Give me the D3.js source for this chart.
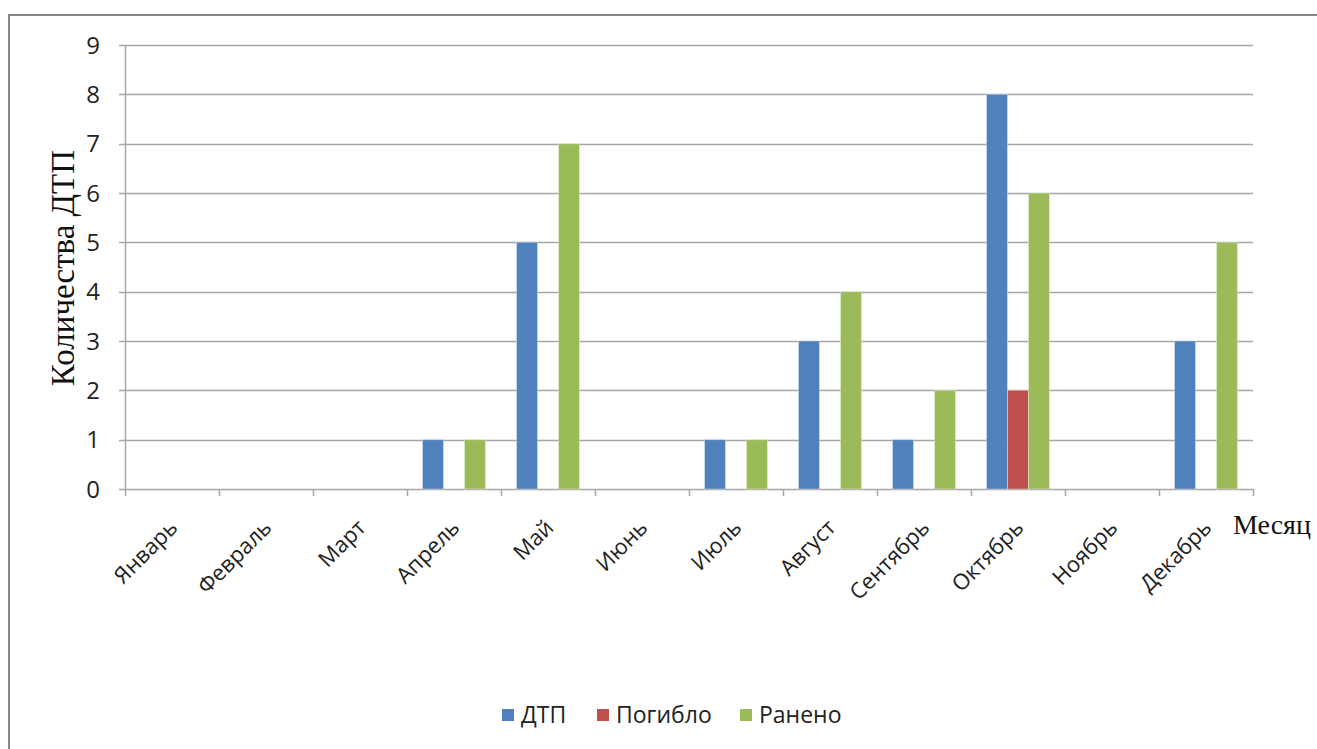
<!DOCTYPE html>
<html>
<head>
<meta charset="utf-8">
<script src="https://cdn.jsdelivr.net/npm/d3@7"></script>
<style>
  body { margin: 0; background: #fff; }
  svg { display: block; }
</style>
</head>
<body>
<script>
// Data
const months = ['Январь', 'Февраль', 'Март', 'Апрель', 'Май', 'Июнь',
                'Июль', 'Август', 'Сентябрь', 'Октябрь', 'Ноябрь', 'Декабрь'];
const seriesNames = ['ДТП', 'Погибло', 'Ранено'];
const dtp     = [0, 0, 0, 1, 5, 0, 1, 3, 1, 8, 0, 3];
const killed  = [0, 0, 0, 0, 0, 0, 0, 0, 0, 2, 0, 0];
const injured = [0, 0, 0, 1, 7, 0, 1, 4, 2, 6, 0, 5];
const yTicks = [0, 1, 2, 3, 4, 5, 6, 7, 8, 9];

const colors = ['#4F81BD', '#C0504D', '#9BBB59'];
const series = [dtp, killed, injured];

const width = 1317, height = 749;
const plotL = 125, plotR = 1253, plotT = 45, plotB = 489;

const svg = d3.select('body').append('svg')
    .attr('width', width)
    .attr('height', height);

// outer frame
svg.append('path')
    .attr('d', `M9,${height + 5} L9,15 L${width + 5},15`)
    .attr('fill', 'none')
    .attr('stroke', '#878787')
    .attr('stroke-width', 2);

const x = d3.scaleBand().domain(months).range([plotL, plotR]);
const x1 = d3.scaleBand().domain(seriesNames).range([0, x.bandwidth()]).paddingOuter(0.74);
const y = d3.scaleLinear().domain([0, 9]).range([plotB, plotT]);

// gridlines
svg.append('g')
    .selectAll('line')
    .data(yTicks)
    .join('line')
        .attr('x1', plotL - 6)
        .attr('x2', plotR)
        .attr('y1', d => Math.round(y(d)) + 0.5)
        .attr('y2', d => Math.round(y(d)) + 0.5)
        .attr('stroke', '#a6a6a6')
        .attr('stroke-width', 1.5);

// y axis line
svg.append('line')
    .attr('x1', plotL + 0.5).attr('x2', plotL + 0.5)
    .attr('y1', plotT).attr('y2', plotB)
    .attr('stroke', '#a6a6a6')
    .attr('stroke-width', 1.5);

// y tick labels
svg.append('g')
    .selectAll('text')
    .data(yTicks)
    .join('text')
        .attr('x', 100)
        .attr('y', d => y(d))
        .attr('dy', '0.36em')
        .attr('text-anchor', 'end')
        .style('font-family', '"Open Sans", sans-serif')
        .style('font-size', '24px')
        .attr('fill', '#222')
        .text(d => d);

// x ticks at category boundaries
const bounds = months.map(m => x(m)).concat([plotR]);
svg.append('g')
    .selectAll('line')
    .data(bounds)
    .join('line')
        .attr('x1', d => Math.round(d) + 0.5)
        .attr('x2', d => Math.round(d) + 0.5)
        .attr('y1', plotB)
        .attr('y2', plotB + 7)
        .attr('stroke', '#a6a6a6')
        .attr('stroke-width', 1.5);

// bars
const groups = svg.append('g')
    .selectAll('g')
    .data(seriesNames)
    .join('g')
        .attr('fill', (_, i) => colors[i]);

groups.selectAll('rect')
    .data((s, i) => series[i].map((v, j) => ({ s, v, m: months[j] })).filter(d => d.v > 0))
    .join('rect')
        .attr('x', d => x(d.m) + x1(d.s))
        .attr('y', d => y(d.v))
        .attr('width', x1.bandwidth())
        .attr('height', d => y(0) - y(d.v))
        .attr('stroke', 'rgba(255,255,255,0.35)')
        .attr('stroke-width', 1);

// x labels rotated
svg.append('g')
    .selectAll('text')
    .data(months)
    .join('text')
        .attr('transform', d => `translate(${x(d) + x.bandwidth() / 2 + 7},${plotB + 40}) rotate(-45)`)
        .attr('text-anchor', 'end')
        .style('font-family', '"Open Sans", sans-serif')
        .style('font-size', '22px')
        .attr('fill', '#222')
        .text(d => d);

// axis titles
svg.append('text')
    .attr('transform', `translate(74,268) rotate(-90)`)
    .attr('text-anchor', 'middle')
    .style('font-family', '"Liberation Serif", serif')
    .style('font-size', '33px')
    .attr('fill', '#111')
    .text('Количества ДТП');

svg.append('text')
    .attr('x', 1233)
    .attr('y', 534)
    .style('font-family', '"Liberation Serif", serif')
    .style('font-size', '28px')
    .attr('fill', '#111')
    .text('Месяц');

// legend
const legendX = [502, 597, 740];
const legend = svg.append('g')
    .selectAll('g')
    .data(seriesNames)
    .join('g')
        .attr('transform', (_, i) => `translate(${legendX[i]},715)`);

legend.append('rect')
    .attr('x', 0).attr('y', -6)
    .attr('width', 12).attr('height', 12)
    .attr('fill', (_, i) => colors[i]);

legend.append('text')
    .attr('x', 19)
    .attr('y', 0)
    .attr('dy', '0.35em')
    .style('font-family', '"Open Sans", sans-serif')
    .style('font-size', '23px')
    .attr('fill', '#222')
    .text(d => d);
</script>
</body>
</html>
